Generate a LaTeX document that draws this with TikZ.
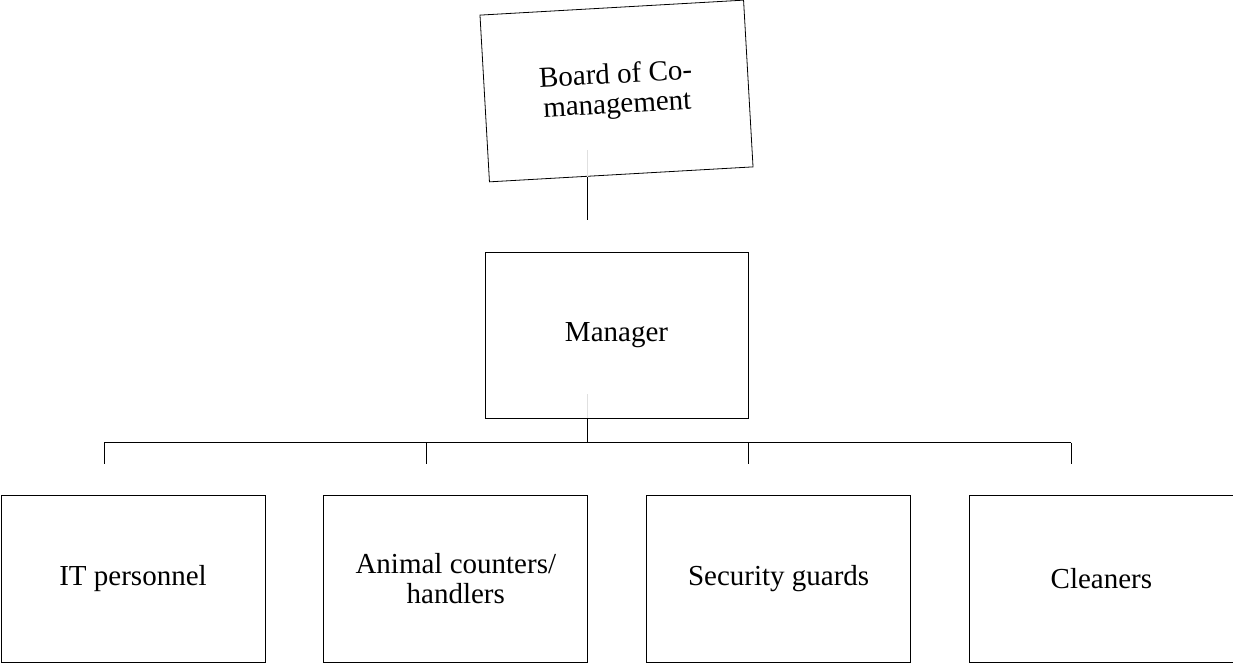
\documentclass[tikz,border=0pt]{standalone}
\usepackage{fontspec}
\setmainfont{Liberation Serif}
\usetikzlibrary{positioning}

\tikzset{
  orgbox/.style={draw, line width=0.8pt, minimum width=264pt, minimum height=167pt,
    align=center, inner sep=0pt, font=\fontsize{29}{30}\selectfont},
  link/.style={line width=0.8pt},
  ghost/.style={line width=0.8pt, black!12}
}

\begin{document}
\begin{tikzpicture}[x=1pt,y=-1pt]
\useasboundingbox (0,0) rectangle (1233,666);

% boxes
\node[orgbox, rotate=3.25] (board) at (616.5,91) {Board of Co-\\management};
\node[orgbox, minimum width=263pt, minimum height=166pt] (manager) at (616.5,335) {Manager};
\node[orgbox] (it) at (133,578.5) {IT personnel};
\node[orgbox, right=58pt of it] (animal) {Animal counters/\\handlers};
\node[orgbox, right=58pt of animal] (security) {Security guards};
\node[orgbox, right=58pt of security] (cleaners) {Cleaners};

% connectors
\coordinate (boardtap) at (587,177);
\coordinate (boardend) at (587,220);
\coordinate (bus) at (587,442.5);
\draw[ghost] (boardtap) -- ++(0,-27);
\draw[link] (boardtap) -- (boardend);
\draw[ghost] (manager.south -| bus) -- ++(0,-24);
\draw[link] (manager.south -| bus) -- (bus);
\foreach \x/\n in {104/it,426/animal,748/security,1071/cleaners}
  \coordinate (drop-\n) at (\x,464);
\draw[link] (drop-it |- bus) -- (drop-cleaners |- bus);
\foreach \n in {it,animal,security,cleaners}
  \draw[link] (drop-\n |- bus) -- (drop-\n);
\end{tikzpicture}
\end{document}
